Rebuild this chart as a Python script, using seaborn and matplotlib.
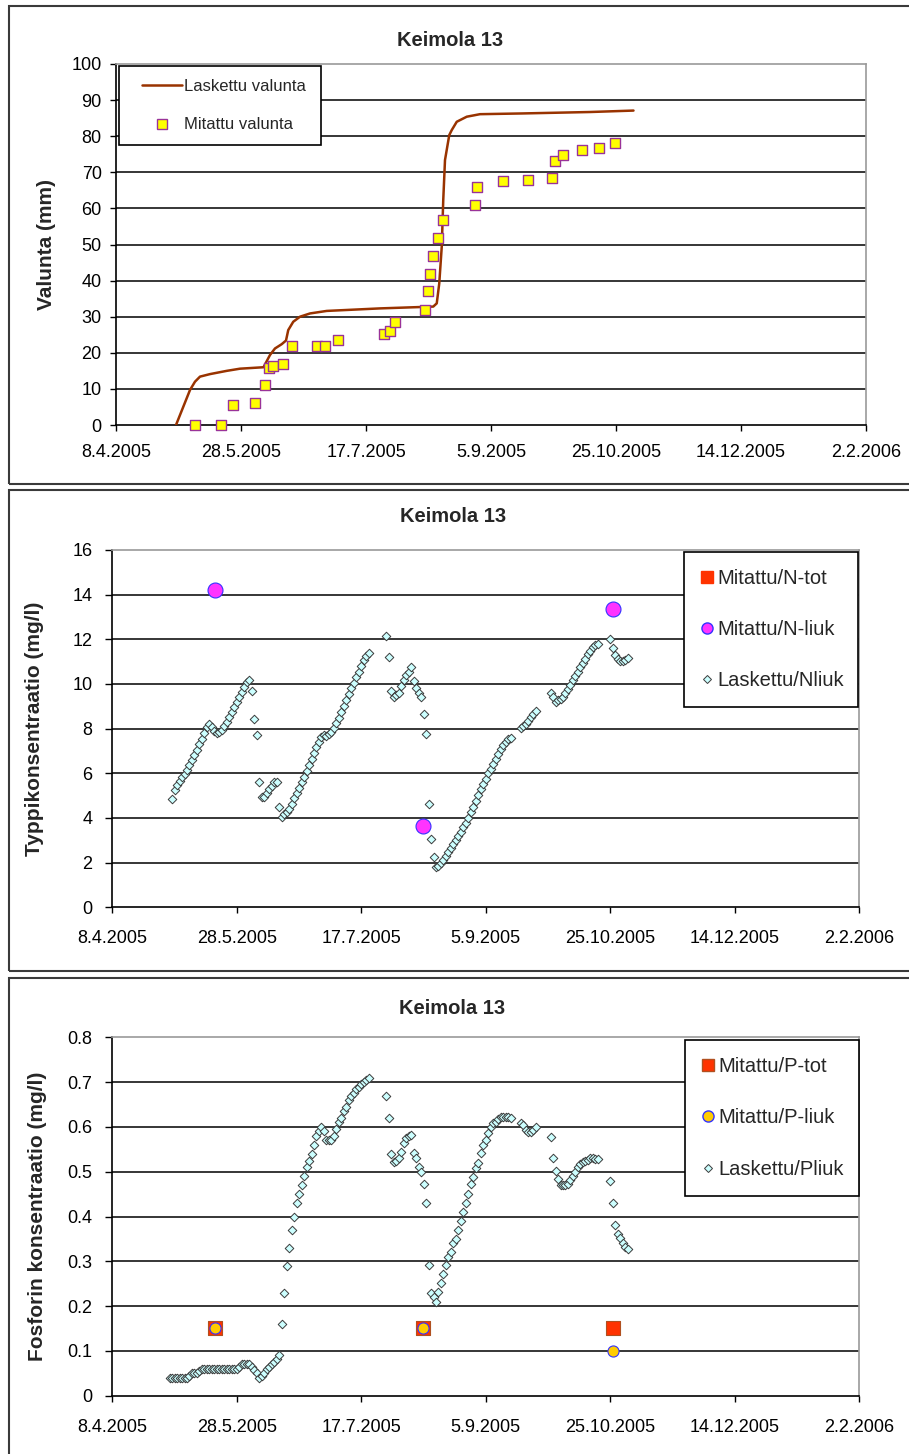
import numpy as np
import pandas as pd
import matplotlib.pyplot as plt
from matplotlib.lines import Line2D
from matplotlib.patches import Rectangle
from matplotlib.legend_handler import HandlerLine2D
import seaborn as sns

sns.set_theme(style="white")
plt.rcParams["font.family"] = ["Liberation Sans", "DejaVu Sans"]

START = pd.Timestamp("2005-04-08")

# --- Valunta (days counted from 8.4.2005) ---
runoff_calc_day = [24, 29.6, 31.6, 33.6, 37.6, 44.3, 49.6, 59, 61.6, 63.6, 66.3, 68, 68.9, 70.9,
                   73.6, 77.6, 84.3, 105.6, 126.9, 128.3, 129.3, 130.3, 130.9, 131.6, 133.3,
                   134.3, 136.3, 140.3, 145.6, 162.3, 189.6, 207]
runoff_calc = [0, 9.7, 12.0, 13.4, 14.1, 15.0, 15.6, 16.0, 19.4, 21.2, 22.4, 23.4, 26.3, 28.6,
               30.0, 30.9, 31.6, 32.3, 32.8, 33.7, 39.2, 49.4, 62.3, 73.4, 80.3,
               81.7, 84.0, 85.4, 86.1, 86.3, 86.7, 87.1]
runoff_meas_day = [31.6, 41.9, 46.7, 55.7, 59.5, 61, 62.7, 66.7, 70.4, 80.5, 83.7, 88.7, 107.3,
                   109.5, 111.6, 123.7, 124.7, 125.6, 126.7, 128.8, 130.9, 143.5, 144.4, 154.9,
                   164.7, 174.5, 175.5, 178.7, 186.4, 193.3, 199.7]
runoff_meas = [0, 0, 5.6, 6.0, 11.1, 15.7, 16.4, 16.8, 21.8, 21.8, 21.8, 23.6, 25.1,
               26.0, 28.6, 31.9, 37.1, 41.7, 46.7, 51.8, 56.8, 60.9, 65.9, 67.7,
               68.0, 68.4, 73.0, 74.9, 76.1, 76.7, 78.1]

# --- measured concentrations ---
meas_day = [41.4, 124.9, 201.0]
n_liuk = [14.2, 3.65, 13.35]
p_tot = [0.152, 0.152, 0.152]
p_liuk = [0.152, 0.152, 0.10]

# --- modelled N (daily values, segments start at given day) ---
n_calc_start = [24, 110, 164, 176, 200]
n_calc = [
    [4.84, 5.24, 5.46, 5.66, 5.84, 5.99, 6.16, 6.37, 6.58, 6.81, 7.06, 7.30, 7.55, 7.81, 8.07,
     8.22, 8.07, 7.90, 7.81, 7.85, 7.96, 8.10, 8.30, 8.52, 8.75, 8.97, 9.19, 9.42, 9.64, 9.87,
     10.09, 10.16, 9.70, 8.42, 7.72, 5.62, 4.92, 4.92, 5.10, 5.28, 5.45, 5.62, 5.62, 4.51,
     4.04, 4.16, 4.27, 4.42, 4.64, 4.91, 5.13, 5.36, 5.60, 5.84, 6.09, 6.39, 6.66, 6.91, 7.18,
     7.40, 7.63, 7.73, 7.66, 7.75, 7.85, 8.03, 8.25, 8.49, 8.73, 9.00, 9.27, 9.54, 9.82, 10.06,
     10.31, 10.54, 10.79, 11.06, 11.24, 11.39],
    [12.15, 11.21, 9.70, 9.40, 9.50, 9.61, 9.91, 10.20, 10.40, 10.55, 10.75, 10.15, 9.81, 9.61,
     9.40, 8.64, 7.77, 4.61, 3.04, 2.27, 1.82, 1.85, 1.97, 2.12, 2.30, 2.48, 2.66, 2.83, 3.01,
     3.19, 3.39, 3.58, 3.79, 4.01, 4.25, 4.51, 4.78, 5.03, 5.28, 5.52, 5.76, 6.00, 6.21, 6.43,
     6.66, 6.86, 7.07, 7.27, 7.40, 7.52, 7.60],
    [8.02, 8.10, 8.22, 8.35, 8.50, 8.65, 8.81],
    [9.58, 9.40, 9.21, 9.28, 9.31, 9.43, 9.58, 9.76, 9.95, 10.18, 10.37, 10.55, 10.75, 10.92,
     11.13, 11.33, 11.49, 11.64, 11.75, 11.79],
    [12.0, 11.6, 11.3, 11.1, 11.05, 11.05, 11.08, 11.15],
]

# --- modelled P ---
p_calc_start = [23, 110, 164, 176, 200]
p_calc = [
    [0.04, 0.04, 0.04, 0.04, 0.04, 0.04, 0.04, 0.04, 0.045, 0.05, 0.05, 0.05, 0.055,
     0.06, 0.06, 0.06, 0.06, 0.06, 0.06, 0.06, 0.06, 0.06, 0.06, 0.06, 0.06, 0.06, 0.06, 0.06,
     0.065, 0.07, 0.07, 0.07, 0.07, 0.065, 0.057, 0.05, 0.04, 0.045, 0.05, 0.06, 0.065, 0.07,
     0.075, 0.082, 0.09,
     0.16, 0.23, 0.29, 0.33, 0.37, 0.40, 0.43, 0.45, 0.47, 0.49, 0.51, 0.525, 0.54, 0.56, 0.58,
     0.59, 0.60, 0.59, 0.57, 0.57, 0.57, 0.58, 0.595, 0.61, 0.62, 0.635, 0.645, 0.66, 0.67,
     0.675, 0.685, 0.69, 0.695, 0.70, 0.705, 0.71],
    [0.67, 0.62, 0.54, 0.522, 0.525, 0.53, 0.545, 0.563, 0.575, 0.58, 0.582, 0.542, 0.53, 0.511,
     0.50, 0.472, 0.431, 0.292, 0.23, 0.221, 0.21, 0.232, 0.251, 0.271, 0.292, 0.31, 0.321,
     0.34, 0.35, 0.37, 0.391, 0.411, 0.431, 0.451, 0.472, 0.489, 0.509, 0.52, 0.541, 0.559,
     0.571, 0.586, 0.599, 0.608, 0.612, 0.617, 0.621, 0.621, 0.621, 0.621, 0.619],
    [0.609, 0.604, 0.594, 0.589, 0.589, 0.592, 0.599],
    [0.578, 0.53, 0.501, 0.483, 0.47, 0.47, 0.47, 0.472, 0.481, 0.49, 0.50, 0.51, 0.517, 0.522,
     0.524, 0.526, 0.53, 0.53, 0.529, 0.529],
    [0.48, 0.431, 0.381, 0.362, 0.351, 0.34, 0.333, 0.327],
]

TITLE = "Keimola 13"
DIAMOND_FACE = "#CCFFFF"
DIAMOND_EDGE = "#3c3c3c"


def to_dates(days):
    return START + pd.to_timedelta(np.asarray(days, dtype=float), unit="D")


def segments_df(starts, segs):
    days, vals = [], []
    for s, v in zip(starts, segs):
        days += list(range(s, s + len(v)))
        vals += v
    return pd.DataFrame({"date": to_dates(days), "value": vals})


W, H = 909, 1454
fig = plt.figure(figsize=(W / 100, H / 100), dpi=100)


def axes_px(x0, y0, x1, y1):
    return fig.add_axes([x0 / W, 1 - y1 / H, (x1 - x0) / W, (y1 - y0) / H])


def style_axes(ax, ymax, ystep, ylen, ypad, xpad):
    ax.set_xlabel("")
    ax.set_ylabel("")
    xt = [START + pd.Timedelta(days=50 * k) for k in range(7)]
    ax.set_xlim(xt[0], xt[-1])
    ax.set_xticks(xt)
    ax.set_xticklabels([f"{t.day}.{t.month}.{t.year}" for t in xt])
    yt = np.round(np.arange(0, ymax + ystep / 2, ystep), 3)
    ax.set_ylim(0, ymax)
    ax.set_yticks(yt)
    ax.set_yticklabels([f"{v:g}" for v in yt])
    for v in yt[1:-1]:
        ax.axhline(v, color="black", lw=1.1, zorder=0.5)
    ax.tick_params(labelsize=13, colors="black", width=1)
    ax.tick_params(axis="y", left=True, direction="out", length=ylen, pad=ypad)
    ax.tick_params(axis="x", bottom=True, direction="out", length=4.5, pad=xpad)
    for side in ["left", "bottom"]:
        ax.spines[side].set_color("black")
        ax.spines[side].set_linewidth(1.2)
    for side in ["top", "right"]:
        ax.spines[side].set_color("#9a9a9a")
        ax.spines[side].set_linewidth(1.2)


def add_legend(ax, handles, labels, bbox, fs, **kw):
    leg = ax.legend(handles, labels, loc="upper left", bbox_to_anchor=bbox, mode="expand",
                    borderaxespad=0, fontsize=fs, fancybox=False, framealpha=1,
                    edgecolor="black", **kw)
    leg.get_frame().set_linewidth(1.2)
    return leg


# panel frames
for y0, y1 in [(6, 484), (490, 971), (978, 1470)]:
    fig.add_artist(Rectangle((9 / W, 1 - y1 / H), 1.0, (y1 - y0) / H, transform=fig.transFigure,
                             fill=False, edgecolor="#3a3a3a", linewidth=1.5))

# ---- Panel 1: runoff ----
ax1 = axes_px(116, 64, 866, 425)
sns.lineplot(x=to_dates(runoff_calc_day), y=runoff_calc, ax=ax1, color="#993300",
             linewidth=1.8, estimator=None, sort=False, zorder=3)
sns.scatterplot(x=to_dates(runoff_meas_day), y=runoff_meas, ax=ax1, marker="s", s=52,
                color="#FFFF00", edgecolor="#993399", linewidth=1.0, zorder=4, clip_on=False)
style_axes(ax1, 100, 10, 4.3, 6, 9)
fig.text(450 / W, 1 - 41 / H, TITLE, ha="center", va="center", fontsize=14.5, fontweight="bold")
ax1.text((46 - 116) / 750, 0.5, "Valunta (mm)", transform=ax1.transAxes, rotation=90,
         ha="center", va="center", fontsize=15, fontweight="bold")
h1 = [Line2D([], [], color="#993300", lw=1.8),
      Line2D([], [], ls="none", marker="s", markersize=7, markerfacecolor="#FFFF00",
             markeredgecolor="#993399")]
add_legend(ax1, h1, ["Laskettu valunta", "Mitattu valunta"], (0.004, 0.994, 0.2693, 0), 12,
           handlelength=3.0, handletextpad=0.12, labelspacing=1.4, borderpad=0.78,
           handler_map={Line2D: HandlerLine2D(xpad=0.62)})

# ---- Panel 2: nitrogen ----
ax2 = axes_px(112.3, 550, 859.3, 907.3)
n_df = segments_df(n_calc_start, n_calc)
sns.scatterplot(data=n_df, x="date", y="value", ax=ax2, marker="D", s=19, color=DIAMOND_FACE,
                edgecolor=DIAMOND_EDGE, linewidth=0.7, zorder=3)
sns.scatterplot(x=to_dates(meas_day), y=n_liuk, ax=ax2, marker="o", s=116, color="#FF33FF",
                edgecolor="#3333FF", linewidth=0.8, zorder=4)
style_axes(ax2, 16, 2, 5, 9.4, 12)
fig.text(453 / W, 1 - 516 / H, TITLE, ha="center", va="center", fontsize=14.5, fontweight="bold")
ax2.text((35 - 112.3) / 747, 0.5, "Typpikonsentraatio (mg/l)", transform=ax2.transAxes,
         rotation=90, ha="center", va="center", fontsize=15, fontweight="bold")
h2 = [Line2D([], [], ls="none", marker="s", markersize=8.5, markerfacecolor="#FF3300",
             markeredgecolor="#FF3300"),
      Line2D([], [], ls="none", marker="o", markersize=8, markerfacecolor="#FF33FF",
             markeredgecolor="#3333FF"),
      Line2D([], [], ls="none", marker="D", markersize=4.2, markerfacecolor=DIAMOND_FACE,
             markeredgecolor=DIAMOND_EDGE, markeredgewidth=0.7)]
add_legend(ax2, h2, ["Mitattu/N-tot", "Mitattu/N-liuk", "Laskettu/Nliuk"],
           (0.7653, 0.9952, 0.2329, 0), 14.5,
           handlelength=0.6, handletextpad=0.22, labelspacing=1.6, borderpad=0.85)

# ---- Panel 3: phosphorus ----
ax3 = axes_px(112.3, 1037.3, 859.3, 1395.7)
p_df = segments_df(p_calc_start, p_calc)
sns.scatterplot(data=p_df, x="date", y="value", ax=ax3, marker="D", s=19, color=DIAMOND_FACE,
                edgecolor=DIAMOND_EDGE, linewidth=0.7, zorder=3)
sns.scatterplot(x=to_dates(meas_day), y=p_tot, ax=ax3, marker="s", s=88, color="#FF3300",
                edgecolor="#B05020", linewidth=0.8, zorder=4)
sns.scatterplot(x=to_dates(meas_day), y=p_liuk, ax=ax3, marker="o", s=64, color="#FFCC00",
                edgecolor="#3333FF", linewidth=0.8, zorder=5)
style_axes(ax3, 0.8, 0.1, 5, 9.4, 12)
fig.text(452 / W, 1 - 1008 / H, TITLE, ha="center", va="center", fontsize=14.5, fontweight="bold")
ax3.text((38 - 112.3) / 747, 0.5, "Fosforin konsentraatio (mg/l)", transform=ax3.transAxes,
         rotation=90, ha="center", va="center", fontsize=15, fontweight="bold")
h3 = [Line2D([], [], ls="none", marker="s", markersize=8.5, markerfacecolor="#FF3300",
             markeredgecolor="#B05020"),
      Line2D([], [], ls="none", marker="o", markersize=8, markerfacecolor="#FFCC00",
             markeredgecolor="#3333FF"),
      Line2D([], [], ls="none", marker="D", markersize=4.2, markerfacecolor=DIAMOND_FACE,
             markeredgecolor=DIAMOND_EDGE, markeredgewidth=0.7)]
add_legend(ax3, h3, ["Mitattu/P-tot", "Mitattu/P-liuk", "Laskettu/Pliuk"],
           (0.7667, 0.9925, 0.2329, 0), 14.5,
           handlelength=0.6, handletextpad=0.22, labelspacing=1.6, borderpad=0.85)

fig.savefig("out.png", dpi=100)
